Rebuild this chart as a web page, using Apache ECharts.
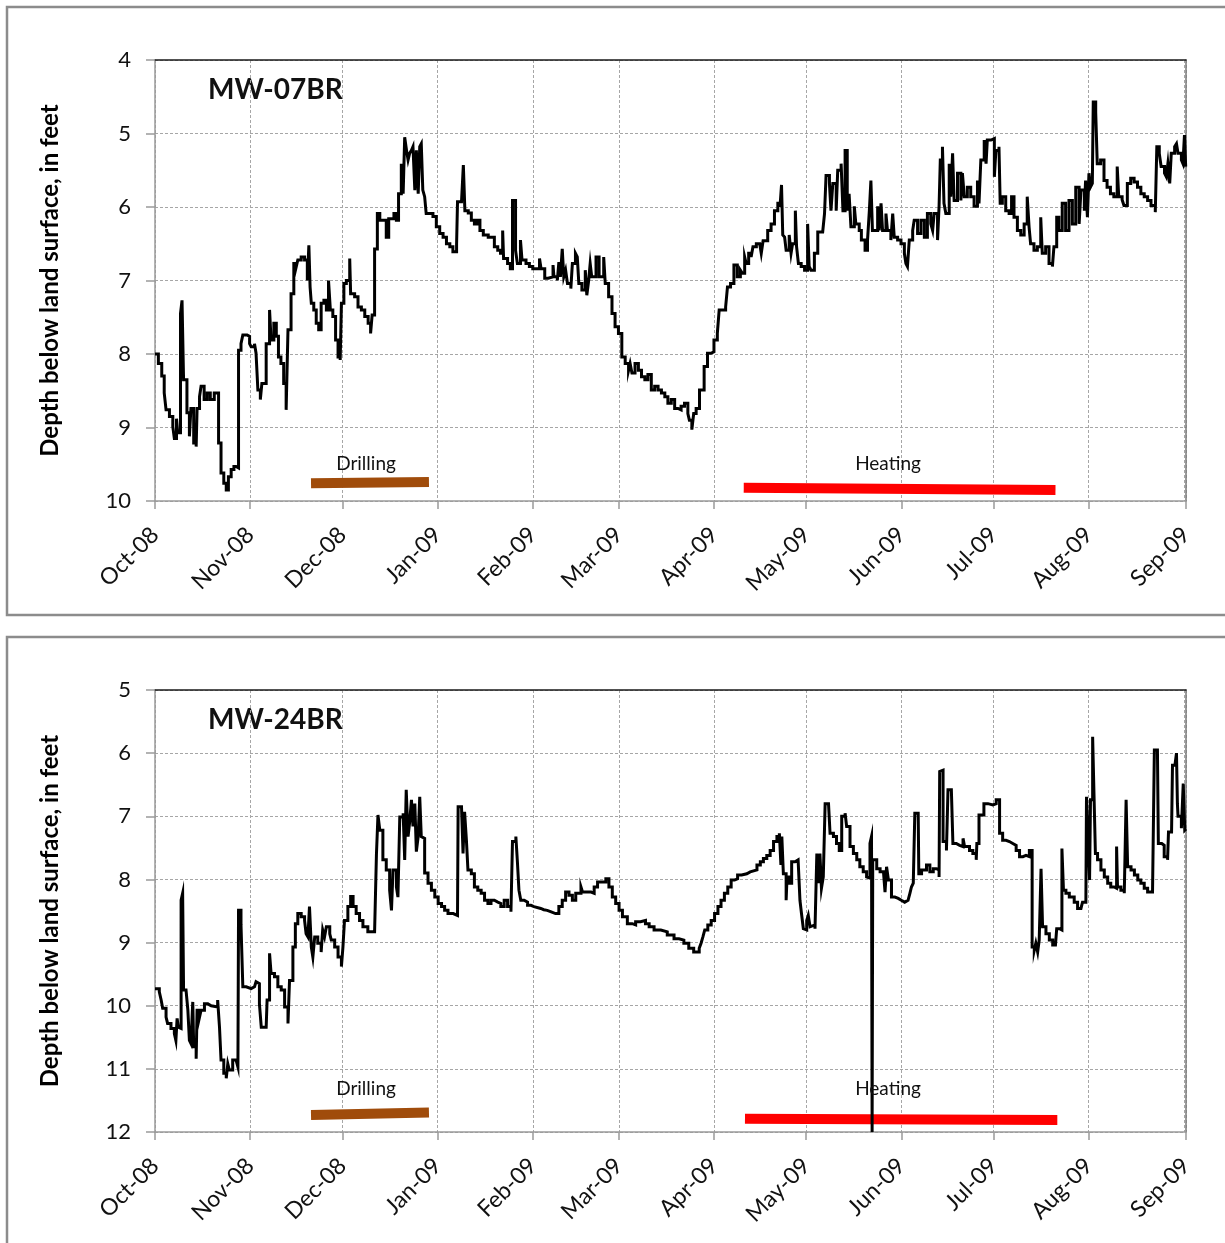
<!DOCTYPE html>
<html>
<head>
<meta charset="utf-8">
<title>Groundwater depth, MW-07BR and MW-24BR</title>
<script src="https://cdn.jsdelivr.net/npm/echarts@6/dist/echarts.min.js"></script>
<style>
  html, body { margin: 0; padding: 0; background: #fff; }
  #chart { width: 1225px; height: 1243px; }
</style>
</head>
<body>
<div id="chart"></div>
<script>
// Record starts 1 October 2008; readings are [days since start, depth in feet].
const RECORD_START = new Date(2008, 9, 1).getTime();
const DAY_MS = 86400000;
const RECORD_END_DAY = 335.7;

const monthNames = ['Jan', 'Feb', 'Mar', 'Apr', 'May', 'Jun', 'Jul', 'Aug', 'Sep', 'Oct', 'Nov', 'Dec'];

const wellNames = ['MW-07BR', 'MW-24BR'];
const depthRangeMW07 = [4, 10];
const depthRangeMW24 = [5, 12];

const mw07Readings = [
  [0, 8.0], [1.1, 8.13], [2.2, 8.3], [3.0, 8.53], [3.6, 8.76], [4.7, 8.85], [5.8, 8.99], [6.3, 9.15],
  [7.0, 8.88], [7.4, 9.07], [8.3, 7.45], [8.8, 7.27], [9.3, 8.35], [10.4, 8.8], [11.2, 9.12], [11.7, 8.74],
  [12.6, 9.21], [13.4, 9.26], [13.7, 8.74], [14.5, 8.58], [15.0, 8.44], [16.0, 8.62], [17.0, 8.53], [18.0, 8.62],
  [19.3, 8.53], [20.7, 9.21], [21.5, 9.62], [22.4, 9.76], [23.2, 9.85], [23.9, 9.67], [24.8, 9.57], [25.7, 9.53],
  [26.4, 9.55], [27.2, 7.95], [28.0, 7.86], [28.6, 7.74], [30.0, 7.76], [30.8, 7.86], [31.3, 7.9], [32.4, 7.86],
  [32.9, 7.99], [33.5, 8.49], [34.3, 8.62], [34.8, 8.4], [36.2, 7.86], [37.3, 7.4], [37.8, 7.81], [38.7, 7.58],
  [39.5, 7.76], [40.2, 8.04], [41.0, 8.13], [41.9, 8.4], [42.7, 8.76], [43.3, 7.67], [44.3, 7.18], [45.2, 6.77],
  [46.0, 6.81], [46.5, 6.72], [47.6, 6.68], [48.7, 6.72], [49.6, 7.0], [50.1, 6.52], [50.5, 7.09], [50.9, 7.31],
  [51.7, 7.4], [52.5, 7.58], [53.3, 7.67], [54.1, 7.31], [55.0, 7.27], [55.8, 7.4], [56.5, 7.0], [57.1, 7.4],
  [57.9, 7.49], [58.8, 7.81], [59.6, 8.04], [60.3, 8.08], [60.7, 7.31], [61.5, 7.04], [62.3, 7.0], [63.4, 6.7],
  [63.7, 7.18], [65.0, 7.22], [66.1, 7.36], [67.2, 7.4], [68.3, 7.49], [69.4, 7.58], [70.2, 7.72], [70.7, 7.47],
  [71.5, 6.57], [72.4, 6.09], [73.2, 6.18], [75.3, 6.41], [76.1, 6.16], [77.8, 6.09], [78.6, 6.18], [79.3, 5.82],
  [80.2, 5.41], [80.8, 5.82], [81.3, 5.05], [81.9, 5.23], [82.4, 5.36], [82.9, 5.27], [83.5, 5.23], [84.0, 5.18],
  [84.6, 5.77], [85.1, 5.23], [85.7, 5.82], [86.2, 5.18], [86.7, 5.14], [87.2, 5.77], [87.8, 5.86], [88.3, 6.09],
  [90.5, 6.13], [91.6, 6.27], [92.7, 6.36], [93.8, 6.41], [94.9, 6.5], [96.0, 6.54], [97.0, 6.61], [98.2, 6.5],
  [98.5, 5.93], [99.8, 5.95], [100.4, 5.43], [100.9, 6.05], [102.0, 6.08], [103.0, 6.18], [104.0, 6.23], [104.9, 6.18],
  [105.8, 6.32], [106.9, 6.38], [108.5, 6.41], [110.5, 6.54], [111.6, 6.59], [112.5, 6.63], [113.2, 6.32], [113.5, 6.7],
  [114.8, 6.77], [115.7, 6.84], [116.4, 5.91], [117.4, 6.59], [118.0, 6.77], [119.0, 6.45], [119.5, 6.72], [120.8, 6.77],
  [121.9, 6.81], [123.0, 6.84], [125.2, 6.7], [125.7, 6.84], [126.9, 6.97], [128.0, 6.95], [129.6, 6.79], [129.9, 6.95],
  [131.0, 7.0], [131.5, 6.75], [132.0, 6.95], [132.6, 6.57], [133.1, 6.95], [133.7, 6.86], [134.3, 7.04], [135.4, 7.11],
  [135.9, 6.77], [136.9, 6.63], [137.5, 6.68], [138.0, 7.04], [139.0, 7.13], [140.1, 6.86], [140.6, 7.2], [141.2, 7.0],
  [141.7, 6.77], [142.2, 6.95], [143.6, 6.68], [144.6, 6.95], [146.1, 6.68], [146.6, 7.04], [147.7, 7.22], [148.8, 7.45],
  [149.8, 7.63], [150.9, 7.72], [152.0, 8.04], [153.1, 8.13], [154.2, 8.22], [154.7, 8.13], [155.3, 8.26], [156.3, 8.13],
  [157.4, 8.22], [158.4, 8.31], [159.5, 8.35], [160.5, 8.28], [161.6, 8.49], [162.7, 8.44], [163.8, 8.49], [164.9, 8.53],
  [166.0, 8.58], [167.0, 8.67], [168.1, 8.62], [169.2, 8.74], [170.3, 8.76], [171.3, 8.71], [172.4, 8.67], [173.5, 8.81],
  [174.0, 8.9], [174.8, 9.03], [175.4, 8.81], [176.2, 8.74], [177.3, 8.49], [178.8, 8.17], [179.9, 7.99], [181.0, 7.97],
  [182.0, 7.81], [183.1, 7.72], [183.7, 7.4], [185.8, 7.36], [186.4, 7.09], [187.4, 7.04], [188.5, 6.79], [189.6, 6.95],
  [190.6, 6.86], [191.2, 6.9], [192.0, 6.68], [192.5, 6.77], [193.3, 6.63], [194.1, 6.68], [194.7, 6.54], [195.8, 6.5],
  [196.9, 6.48], [197.4, 6.63], [198.0, 6.46], [199.5, 6.32], [200.6, 6.23], [201.7, 6.05], [202.8, 5.95], [203.5, 6.0],
  [204.0, 5.7], [204.4, 6.38], [205.0, 6.41], [205.5, 6.59], [206.5, 6.38], [207.1, 6.63], [207.6, 6.5], [208.5, 6.05],
  [208.9, 6.54], [209.5, 6.77], [210.4, 6.81], [211.5, 6.86], [212.5, 6.23], [213.0, 6.81], [213.6, 6.86], [214.7, 6.63],
  [215.8, 6.34], [217.4, 6.32], [218.0, 6.09], [218.5, 5.57], [219.6, 5.68], [220.1, 6.05], [220.7, 5.68], [221.8, 6.05],
  [222.3, 5.5], [223.4, 5.41], [224.0, 6.05], [224.7, 5.23], [225.4, 6.05], [226.0, 5.82], [226.6, 6.27], [227.7, 5.99],
  [228.2, 6.23], [229.3, 6.32], [230.0, 6.45], [231.2, 6.59], [232.0, 6.45], [232.6, 6.05], [233.1, 5.64], [233.6, 6.32],
  [235.3, 5.99], [235.8, 6.32], [236.4, 5.95], [236.9, 6.32], [238.0, 6.09], [238.5, 6.32], [239.6, 6.45], [240.2, 6.09],
  [240.7, 6.41], [241.8, 6.45], [242.9, 6.5], [244.0, 6.63], [244.5, 6.77], [245.0, 6.81], [245.6, 6.45], [246.7, 6.32],
  [247.2, 6.18], [248.3, 6.36], [249.4, 6.18], [250.5, 6.41], [251.5, 6.09], [252.6, 6.23], [253.2, 6.32], [253.7, 6.09],
  [254.8, 6.45], [255.3, 5.99], [255.7, 5.36], [256.4, 5.18], [256.9, 5.95], [257.5, 6.09], [258.6, 5.41], [259.1, 5.86],
  [259.7, 5.27], [260.2, 5.91], [261.3, 5.54], [262.4, 5.91], [262.9, 5.54], [263.5, 5.86], [264.5, 5.73], [265.6, 5.86],
  [266.7, 5.99], [267.8, 5.64], [268.3, 5.95], [268.9, 5.36], [270.0, 5.09], [270.6, 5.41], [271.0, 5.09], [272.2, 5.07],
  [273.3, 5.59], [273.8, 5.23], [274.8, 5.18], [275.2, 5.95], [275.9, 5.86], [277.0, 6.05], [278.1, 6.09], [278.9, 5.86],
  [279.7, 6.14], [280.8, 6.32], [281.9, 6.38], [283.0, 6.23], [284.0, 5.86], [284.6, 6.27], [285.1, 6.5], [286.2, 6.59],
  [287.3, 6.54], [288.4, 6.14], [288.9, 6.63], [290.0, 6.54], [291.1, 6.77], [292.2, 6.81], [292.7, 6.54], [293.6, 6.14],
  [294.3, 6.32], [295.4, 5.95], [296.5, 6.32], [297.6, 5.91], [298.7, 6.23], [299.8, 5.73], [300.9, 6.23], [301.5, 5.77],
  [302.6, 6.05], [303.0, 5.64], [303.6, 6.14], [304.1, 5.54], [304.6, 5.73], [305.2, 5.68], [305.5, 4.57], [306.3, 4.71],
  [306.8, 5.41], [307.9, 5.36], [309.0, 5.64], [310.0, 5.73], [311.1, 5.82], [312.2, 5.86], [313.3, 5.45], [313.8, 5.86],
  [314.9, 5.9], [315.5, 5.98], [316.6, 5.68], [317.7, 5.61], [318.8, 5.66], [319.9, 5.73], [321.0, 5.82], [322.1, 5.86],
  [323.2, 5.91], [324.3, 5.98], [325.7, 6.07], [326.2, 5.18], [327.0, 5.27], [327.6, 5.45], [328.7, 5.54], [329.3, 5.59],
  [329.8, 5.41], [330.4, 5.68], [330.9, 5.27], [332.0, 5.18], [332.6, 5.14], [333.1, 5.27], [334.2, 5.36], [334.7, 5.41],
  [335.2, 5.02], [335.6, 5.45]
];

const mw24Readings = [
  [0, 9.73], [1.4, 9.78], [2.0, 9.91], [2.5, 10.04], [3.6, 10.18], [4.1, 10.28], [5.2, 10.36], [6.3, 10.44],
  [6.8, 10.55], [7.2, 10.2], [7.6, 10.34], [8.2, 10.36], [8.5, 8.33], [9.0, 8.22], [9.3, 9.75], [10.1, 9.75],
  [10.7, 10.07], [11.2, 10.55], [11.7, 10.6], [12.3, 9.94], [12.6, 10.65], [13.4, 10.84], [13.7, 10.07], [14.5, 10.18],
  [15.0, 10.07], [16.1, 9.97], [17.2, 10.0], [18.3, 10.02], [20.4, 9.91], [21.0, 10.34], [21.5, 10.86], [22.4, 11.07],
  [23.2, 11.15], [23.7, 10.92], [24.2, 11.02], [25.3, 10.86], [26.4, 10.84], [27.0, 10.97], [27.2, 8.49], [28.0, 8.72],
  [28.6, 9.7], [29.7, 9.73], [31.3, 9.7], [32.4, 9.68], [32.9, 9.62], [33.5, 9.65], [34.0, 9.97], [34.6, 10.34],
  [36.2, 10.34], [36.5, 9.91], [37.3, 9.17], [37.8, 9.49], [38.9, 9.54], [40.0, 9.7], [41.1, 9.75], [42.2, 10.02],
  [43.3, 10.28], [43.8, 9.6], [44.9, 9.07], [45.7, 8.7], [46.5, 8.54], [47.6, 8.59], [48.7, 8.65], [49.2, 8.86],
  [49.8, 8.91], [50.3, 8.43], [50.9, 9.07], [51.4, 9.23], [52.0, 8.91], [53.0, 9.01], [54.1, 9.15], [54.6, 8.8],
  [55.2, 8.91], [55.8, 8.75], [56.9, 8.86], [57.4, 8.96], [58.5, 9.07], [59.6, 9.23], [60.7, 9.38], [61.2, 9.07],
  [61.7, 8.65], [62.8, 8.43], [63.7, 8.27], [64.5, 8.43], [65.5, 8.54], [66.6, 8.65], [67.7, 8.75], [69.3, 8.83],
  [71.5, 8.86], [72.1, 7.61], [72.6, 6.98], [73.2, 7.22], [74.2, 7.69], [75.3, 7.85], [76.4, 8.17], [77.0, 8.49],
  [77.5, 7.85], [78.6, 8.12], [79.1, 8.28], [79.7, 7.01], [80.8, 6.95], [81.3, 7.69], [81.8, 6.58], [82.4, 7.32],
  [82.9, 7.1], [83.5, 6.74], [84.0, 7.16], [84.6, 6.8], [85.1, 7.56], [85.7, 7.32], [86.2, 6.69], [86.7, 7.32],
  [87.3, 7.35], [87.8, 7.9], [88.9, 8.06], [90.0, 8.17], [91.1, 8.28], [92.2, 8.38], [93.3, 8.43], [94.3, 8.49],
  [95.4, 8.54], [97.1, 8.57], [98.5, 8.57], [98.7, 6.85], [99.8, 6.88], [100.3, 7.59], [100.8, 6.93], [101.4, 7.38],
  [101.9, 7.85], [103.0, 7.91], [104.0, 8.12], [105.1, 8.17], [106.2, 8.22], [107.3, 8.33], [108.4, 8.38], [109.4, 8.33],
  [110.5, 8.36], [111.6, 8.38], [112.6, 8.43], [113.7, 8.33], [114.8, 8.43], [115.9, 8.51], [116.4, 7.4], [117.5, 7.32],
  [118.0, 7.72], [118.5, 8.17], [119.1, 8.33], [120.2, 8.36], [121.3, 8.41], [122.4, 8.43], [123.4, 8.46], [125.6, 8.48],
  [126.6, 8.49], [127.7, 8.51], [128.8, 8.54], [130.4, 8.54], [131.5, 8.43], [132.6, 8.33], [133.7, 8.2], [134.8, 8.25],
  [135.9, 8.33], [137.0, 8.22], [138.7, 8.12], [139.2, 8.2], [142.0, 8.22], [143.0, 8.12], [144.1, 8.04], [146.8, 7.99],
  [147.8, 8.12], [148.9, 8.28], [150.0, 8.38], [151.1, 8.49], [152.2, 8.59], [153.8, 8.7], [155.4, 8.72], [156.5, 8.67],
  [158.1, 8.65], [159.7, 8.7], [160.9, 8.75], [162.5, 8.8], [164.7, 8.83], [166.8, 8.88], [169.0, 8.94], [170.6, 8.96],
  [172.2, 9.01], [173.8, 9.09], [175.4, 9.15], [177.2, 9.09], [177.8, 9.01], [178.4, 8.91], [179.0, 8.8], [180.0, 8.72],
  [181.1, 8.65], [182.2, 8.54], [183.3, 8.43], [184.3, 8.33], [185.4, 8.22], [186.5, 8.12], [187.6, 8.01], [188.7, 7.99],
  [189.7, 7.93], [191.0, 7.91], [192.7, 7.88], [193.8, 7.85], [196.0, 7.77], [197.1, 7.72], [198.1, 7.67], [199.2, 7.62],
  [200.3, 7.54], [201.4, 7.4], [202.5, 7.32], [203.3, 7.27], [203.8, 7.77], [204.1, 7.32], [204.6, 7.91], [205.5, 8.33],
  [205.8, 7.96], [206.6, 8.06], [207.3, 7.72], [208.4, 7.69], [209.4, 7.72], [210.0, 8.33], [210.5, 8.54], [211.1, 8.78],
  [211.6, 8.8], [212.2, 8.65], [212.7, 8.57], [213.3, 8.75], [213.8, 8.72], [214.9, 8.78], [215.5, 7.59], [216.0, 8.06],
  [216.5, 7.59], [217.0, 8.14], [217.6, 7.96], [218.2, 6.8], [219.3, 6.82], [219.8, 7.27], [220.9, 7.32], [221.9, 7.43],
  [222.8, 7.54], [223.6, 7.0], [224.7, 6.95], [225.2, 7.16], [226.3, 7.48], [227.4, 7.59], [228.5, 7.69], [229.5, 7.8],
  [230.6, 7.88], [231.7, 7.96], [232.3, 7.98], [232.8, 7.43], [233.3, 7.32], [233.5, 12.0], [233.7, 7.69], [235.0, 7.83],
  [236.1, 7.88], [237.2, 7.91], [237.7, 8.2], [238.2, 7.8], [238.8, 8.01], [239.8, 8.28], [240.9, 8.3], [242.0, 8.33],
  [243.0, 8.36], [244.1, 8.33], [245.2, 8.3], [245.8, 8.22], [246.3, 8.12], [246.9, 8.06], [247.4, 6.95], [248.5, 6.98],
  [248.7, 7.91], [249.6, 7.85], [251.2, 7.77], [252.3, 7.88], [253.4, 7.83], [254.4, 7.85], [255.3, 7.96], [255.5, 6.29],
  [256.1, 6.27], [256.6, 7.4], [257.7, 7.54], [258.2, 6.58], [259.3, 6.58], [259.8, 7.43], [260.9, 7.46], [262.0, 7.48],
  [263.1, 7.35], [263.6, 7.48], [265.2, 7.54], [266.3, 7.59], [267.4, 7.69], [267.6, 7.43], [268.3, 6.98], [269.9, 6.8],
  [271.2, 6.82], [272.8, 6.8], [273.9, 6.74], [275.0, 7.27], [276.0, 7.38], [277.1, 7.4], [278.2, 7.43], [279.3, 7.46],
  [280.4, 7.54], [281.5, 7.64], [282.6, 7.62], [283.6, 7.64], [284.7, 7.54], [285.6, 9.07], [286.3, 9.12], [286.8, 9.01],
  [287.4, 9.15], [287.9, 8.96], [288.5, 7.83], [289.0, 8.75], [290.1, 8.86], [291.2, 8.96], [292.3, 9.04], [293.2, 9.01],
  [293.6, 8.78], [294.5, 8.8], [295.3, 7.51], [295.8, 8.17], [296.6, 8.22], [297.7, 8.28], [299.3, 8.36], [300.4, 8.46],
  [301.5, 8.43], [302.0, 8.36], [303.1, 8.36], [303.3, 6.69], [303.9, 7.43], [304.3, 8.01], [304.6, 6.74], [305.3, 5.74],
  [305.8, 6.77], [306.2, 7.59], [306.9, 7.69], [308.0, 7.85], [309.1, 7.96], [310.2, 8.06], [311.2, 8.12], [312.3, 8.14],
  [313.1, 7.48], [313.4, 8.12], [314.5, 8.17], [315.6, 8.22], [316.2, 6.74], [316.7, 7.8], [317.8, 7.85], [318.9, 7.93],
  [320.0, 8.01], [321.0, 8.06], [322.1, 8.14], [323.2, 8.2], [324.8, 8.22], [325.4, 5.95], [326.4, 5.95], [326.7, 7.43],
  [327.8, 7.46], [328.6, 7.64], [329.7, 7.69], [330.0, 7.25], [331.0, 7.27], [331.3, 6.19], [332.1, 6.22], [332.6, 6.0],
  [332.9, 6.8], [333.1, 7.0], [334.2, 7.19], [334.8, 6.48], [335.3, 7.22], [335.7, 7.2]
];

// Activity periods drawn as bars near the bottom of each panel: [day, depth] end points.
const drillingMW07 = [[50.8, 9.76], [89.2, 9.74]];
const heatingMW07 = [[191.7, 9.82], [293.2, 9.85]];
const drillingMW24 = [[50.8, 11.73], [89.2, 11.69]];
const heatingMW24 = [[192.1, 11.79], [293.8, 11.81]];
const activityNames = ['Drilling', 'Heating'];

const FONT = 'Lato, "Open Sans", sans-serif';
const GRID_GREY = '#a6a6a6';
const AXIS_GREY = '#9a9a9a';
const DRILL_BROWN = '#a04c0b';
const HEAT_RED = '#ff0000';

const toTime = (rows) => rows.map(([d, v]) => [RECORD_START + d * DAY_MS, v]);

function monthLabel(value) {
  const d = new Date(value);
  return monthNames[d.getMonth()] + '-' + String(d.getFullYear()).slice(2);
}

function timeAxis(gridIndex) {
  return {
    type: 'time',
    gridIndex,
    min: RECORD_START,
    max: RECORD_START + RECORD_END_DAY * DAY_MS,
    splitNumber: 12,
    axisLine: { show: true, lineStyle: { color: AXIS_GREY, width: 1.5 } },
    axisTick: { show: true, inside: false, length: 8, lineStyle: { color: AXIS_GREY, width: 1.5 } },
    minorTick: { show: false },
    axisLabel: {
      rotate: 45,
      margin: 30,
      fontFamily: FONT,
      fontSize: 23,
      color: '#111',
      formatter: monthLabel,
      hideOverlap: false,
      showMinLabel: true,
      showMaxLabel: true
    },
    splitLine: { show: true, lineStyle: { color: GRID_GREY, type: [3, 2], width: 1 } }
  };
}

function frameAxisTop(gridIndex) {
  return {
    type: 'time', gridIndex, position: 'top',
    min: RECORD_START, max: RECORD_START + RECORD_END_DAY * DAY_MS,
    axisLine: { show: true, onZero: false, lineStyle: { color: '#1a1a1a', width: 1.5 } },
    axisTick: { show: false }, axisLabel: { show: false }, splitLine: { show: false }
  };
}

function depthAxis(gridIndex, range, withName) {
  const axis = {
    type: 'value',
    gridIndex,
    inverse: true,
    min: range[0],
    max: range[1],
    interval: 1,
    axisLine: { show: true, lineStyle: { color: AXIS_GREY, width: 1.5 } },
    axisTick: { show: true, inside: false, length: 9, lineStyle: { color: AXIS_GREY, width: 1.5 } },
    axisLabel: { fontFamily: FONT, fontSize: 22, color: '#111', margin: 24 },
    splitLine: { show: true, lineStyle: { color: GRID_GREY, type: [3, 2], width: 1 } }
  };
  if (withName) {
    axis.name = 'Depth below land surface, in feet';
    axis.nameLocation = 'middle';
    axis.nameRotate = 90;
    axis.nameGap = 93;
    axis.nameTextStyle = { fontFamily: FONT, fontSize: 24, fontWeight: 'bold', color: '#000' };
  }
  return axis;
}

function frameAxisRight(gridIndex, range) {
  return {
    type: 'value', gridIndex, position: 'right', inverse: true,
    min: range[0], max: range[1], interval: 1,
    axisLine: { show: true, lineStyle: { color: '#7a7a7a', width: 1.5 } },
    axisTick: { show: false }, axisLabel: { show: false }, splitLine: { show: false }
  };
}

function depthSeries(rows, xi, yi) {
  return {
    type: 'line',
    xAxisIndex: xi,
    yAxisIndex: yi,
    data: toTime(rows),
    step: 'end',
    showSymbol: false,
    symbol: 'none',
    lineStyle: { color: '#000', width: 3, join: 'miter' },
    z: 5,
    silent: true
  };
}

function periodSeries(rows, color, xi, yi) {
  return {
    type: 'line',
    xAxisIndex: xi,
    yAxisIndex: yi,
    data: toTime(rows),
    showSymbol: false,
    symbol: 'none',
    lineStyle: { color, width: 10, cap: 'butt' },
    z: 4,
    silent: true
  };
}

const chart = echarts.init(document.getElementById('chart'), null, { renderer: 'canvas' });

chart.setOption({
  animation: false,
  backgroundColor: '#fff',
  grid: [
    { left: 155, top: 60, width: 1031, height: 441 },
    { left: 155, top: 690, width: 1031, height: 442 }
  ],
  xAxis: [timeAxis(0), timeAxis(1), frameAxisTop(0), frameAxisTop(1)],
  yAxis: [
    depthAxis(0, depthRangeMW07, true),
    depthAxis(1, depthRangeMW24, true),
    frameAxisRight(0, depthRangeMW07),
    frameAxisRight(1, depthRangeMW24)
  ],
  series: [
    periodSeries(drillingMW07, DRILL_BROWN, 0, 0),
    periodSeries(heatingMW07, HEAT_RED, 0, 0),
    periodSeries(drillingMW24, DRILL_BROWN, 1, 1),
    periodSeries(heatingMW24, HEAT_RED, 1, 1),
    depthSeries(mw07Readings, 0, 0),
    depthSeries(mw24Readings, 1, 1)
  ],
  graphic: [
    { type: 'rect', silent: true, shape: { x: 7, y: 7, width: 1250, height: 608 },
      style: { fill: 'none', stroke: '#8c8c8c', lineWidth: 2.5 } },
    { type: 'rect', silent: true, shape: { x: 7, y: 637, width: 1250, height: 640 },
      style: { fill: 'none', stroke: '#8c8c8c', lineWidth: 2.5 } },
    { type: 'text', left: 208, top: 76, silent: true,
      style: { text: wellNames[0], font: 'bold 28px ' + FONT, fill: '#111' } },
    { type: 'text', left: 208, top: 706, silent: true,
      style: { text: wellNames[1], font: 'bold 28px ' + FONT, fill: '#111' } },
    { type: 'text', x: 366, y: 464, silent: true, z: 10,
      style: { text: activityNames[0], font: '19px ' + FONT, fill: '#111', align: 'center', verticalAlign: 'middle' } },
    { type: 'text', x: 888, y: 464, silent: true, z: 10,
      style: { text: activityNames[1], font: '19px ' + FONT, fill: '#111', align: 'center', verticalAlign: 'middle' } },
    { type: 'text', x: 366, y: 1089, silent: true, z: 10,
      style: { text: activityNames[0], font: '19px ' + FONT, fill: '#111', align: 'center', verticalAlign: 'middle' } },
    { type: 'text', x: 888, y: 1089, silent: true, z: 10,
      style: { text: activityNames[1], font: '19px ' + FONT, fill: '#111', align: 'center', verticalAlign: 'middle' } }
  ]
});
</script>
</body>
</html>
